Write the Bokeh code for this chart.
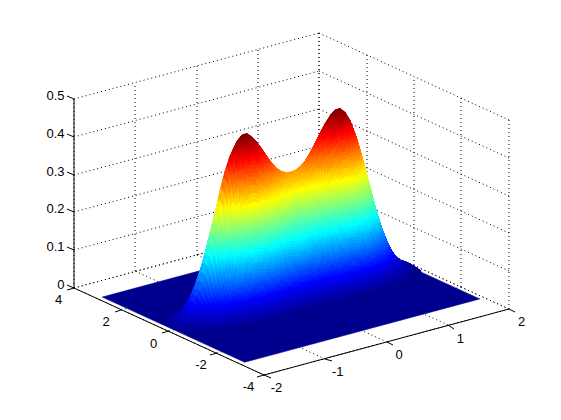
from bokeh.plotting import figure
from bokeh.embed import file_html
from bokeh.resources import INLINE
from bokeh.core.properties import value

# Surface: height = crest_z(x) * profile_y(y)
surf_x = [-1.92, -1.84, -1.76, -1.68, -1.60, -1.52, -1.44, -1.36, -1.28, -1.20, -1.12, -1.04, -0.96,
          -0.88, -0.80, -0.72, -0.64, -0.56, -0.48, -0.40, -0.32, -0.24, -0.16, -0.08, 0.00,
          0.08, 0.16, 0.24, 0.32, 0.40, 0.48, 0.56, 0.64, 0.72, 0.80, 0.88, 0.96, 1.04, 1.12,
          1.20, 1.28, 1.36, 1.44, 1.52, 1.60, 1.68, 1.76, 1.84, 1.92]
crest_z = [0.008, 0.015, 0.025, 0.040, 0.060, 0.090, 0.130, 0.175, 0.230, 0.285, 0.340, 0.390, 0.428,
           0.453, 0.466, 0.466, 0.454, 0.437, 0.416, 0.393, 0.372, 0.354, 0.342, 0.335, 0.333,
           0.335, 0.342, 0.354, 0.372, 0.393, 0.416, 0.437, 0.454, 0.466, 0.466, 0.453, 0.428, 0.390, 0.340,
           0.285, 0.230, 0.175, 0.130, 0.090, 0.060, 0.040, 0.025, 0.015, 0.008]
surf_y = [-1.5, -1.4, -1.3, -1.2, -1.1, -1.0, -0.9, -0.8, -0.7, -0.6, -0.5, -0.4, -0.3, -0.2, -0.1, 0.0,
          0.1, 0.2, 0.3, 0.4, 0.5, 0.6, 0.7, 0.8, 0.9, 1.0, 1.1, 1.2, 1.3, 1.4, 1.5]
profile_y = [0.0, 0.0005, 0.0015, 0.004, 0.009, 0.021, 0.044, 0.085, 0.151, 0.249, 0.381, 0.539, 0.707, 0.857, 0.962, 1.0,
             0.962, 0.857, 0.707, 0.539, 0.381, 0.249, 0.151, 0.085, 0.044, 0.021, 0.009, 0.004, 0.0015, 0.0005, 0.0]
surf_left, surf_right, surf_front, surf_back = -1.92, 1.92, -3.0, 3.0

x_ticks = [-2, -1, 0, 1, 2]
y_ticks = [-4, -2, 0, 2, 4]
z_ticks = [0, 0.1, 0.2, 0.3, 0.4, 0.5]
x_labels = ["-2", "-1", "0", "1", "2"]
y_labels = ["-4", "-2", "0", "2", "4"]
z_labels = ["0", "0.1", "0.2", "0.3", "0.4", "0.5"]

# interpolated shading: how many shading steps each table cell is split into
X_SUB = 2
Y_SUB_FRONT = 7
Y_SUB_BACK = 2


def project(x, y, z):
    """Orthographic view of the 3-D box onto the page."""
    return (263 + (x + 2) * 61.25 - (y + 4) * 23.75,
            374 - (x + 2) * 16.5 - (y + 4) * 10.875 - z * 378)


def jet_index(t):
    return min(63, max(0, int(t * 64)))


def jet(i):
    t = (i + 1) / 64
    def ramp(v):
        return int(round(255 * max(0.0, min(1.0, 1.5 - abs(4 * v)))))
    return "#%02x%02x%02x" % (ramp(t - 0.75), ramp(t - 0.5), ramp(t - 0.25))


mesh_x, mesh_crest = [], []
for i in range(len(surf_x) - 1):
    for s in range(X_SUB):
        f = s / X_SUB
        mesh_x.append(surf_x[i] + (surf_x[i + 1] - surf_x[i]) * f)
        mesh_crest.append(crest_z[i] + (crest_z[i + 1] - crest_z[i]) * f)
mesh_x.append(surf_x[-1])
mesh_crest.append(crest_z[-1])

mesh_y, mesh_prof = [], []
for j in range(len(surf_y) - 1):
    sub = Y_SUB_FRONT if surf_y[j] < 0 else Y_SUB_BACK
    for s in range(sub):
        f = s / sub
        mesh_y.append(surf_y[j] + (surf_y[j + 1] - surf_y[j]) * f)
        mesh_prof.append(profile_y[j] + (profile_y[j + 1] - profile_y[j]) * f)
mesh_y.append(surf_y[-1])
mesh_prof.append(profile_y[-1])

p = figure(width=545, height=404, x_range=(0, 545), y_range=(404, 0),
           output_backend="svg", toolbar_location=None, min_border=0,
           outline_line_color=None, background_fill_color="white", border_fill_color="white")
p.xaxis.visible = False
p.yaxis.visible = False
p.xgrid.visible = False
p.ygrid.visible = False


def snap(v):
    return round(v) + 0.5


# dotted grid on the two back walls and the floor
gx, gy = [], []
def seg(a, b):
    xa, ya = project(*a)
    xb, yb = project(*b)
    gx.append([snap(xa), snap(xb)])
    gy.append([snap(ya), snap(yb)])

for x in x_ticks:
    seg((x, 4, 0), (x, 4, 0.5))
    seg((x, -4, 0), (x, 4, 0))
for y in y_ticks:
    seg((2, y, 0), (2, y, 0.5))
    seg((-2, y, 0), (2, y, 0))
for z in z_ticks:
    seg((-2, 4, z), (2, 4, z))
    seg((2, 4, z), (2, -4, z))
p.multi_line(gx, gy, line_color="black", line_width=1, line_dash="1 3")

# flat part of the surface, then the raised cells from back corner to front corner
floor = [project(surf_left, surf_front, 0), project(surf_right, surf_front, 0),
         project(surf_right, surf_back, 0), project(surf_left, surf_back, 0)]
p.patch([q[0] for q in floor], [q[1] for q in floor], fill_color=jet(0), line_color=jet(0), line_width=0.5)

zmax = max(crest_z)
xs, ys, colors = [], [], []
for j in range(len(mesh_y) - 2, -1, -1):
    y0, y1 = mesh_y[j], mesh_y[j + 1]
    h0, h1 = mesh_prof[j], mesh_prof[j + 1]
    for i in range(len(mesh_x) - 2, -1, -1):
        g0, g1 = mesh_crest[i], mesh_crest[i + 1]
        corners = [(mesh_x[i], y0, g0 * h0), (mesh_x[i + 1], y0, g1 * h0),
                   (mesh_x[i + 1], y1, g1 * h1), (mesh_x[i], y1, g0 * h1)]
        if max(c[2] for c in corners) < 0.004:
            continue
        pts = [project(*c) for c in corners]
        xs.append([q[0] for q in pts])
        ys.append([q[1] for q in pts])
        colors.append(jet(jet_index(sum(c[2] for c in corners) / 4 / zmax)))
p.patches(xs, ys, fill_color=colors, line_color=colors, line_width=1)

# solid axes and tick marks
ax, ay = [], []
def aseg(a, b, ox=0.0, oy=0.0):
    xa, ya = project(*a)
    xb, yb = project(*b)
    ax.append([snap(xa), snap(xb + ox)])
    ay.append([snap(ya), snap(yb + oy)])

aseg((-2, 4, 0), (-2, 4, 0.5))
aseg((-2, -4, 0), (-2, 4, 0))
aseg((-2, -4, 0), (2, -4, 0))
for z in z_ticks:
    aseg((-2, 4, z), (-2, 4, z), -6.5, -3)
for y in y_ticks:
    aseg((-2, y, 0), (-2, y, 0), -6.8, 1.8)
for x in x_ticks:
    aseg((x, -4, 0), (x, -4, 0), 6.5, 3)
p.multi_line(ax, ay, line_color="black", line_width=1)

font = value("Liberation Sans")
def labels(tx, ty, txt, align):
    p.text(tx, ty, text=txt, text_font=font, text_font_size="13px", text_color="black",
           text_align=align, text_baseline="middle")

zp = [project(-2, 4, z) for z in z_ticks]
labels([q[0] - 9 for q in zp], [q[1] - 3 for q in zp], z_labels, "right")
yp = [project(-2, y, 0) for y in y_ticks]
labels([q[0] - 15 for q in yp], [q[1] + 12 for q in yp], y_labels, "center")
xp = [project(x, -4, 0) for x in x_ticks]
labels([q[0] + 13 for q in xp], [q[1] + 13 for q in xp], x_labels, "center")

open("out.html", "w").write(file_html(p, INLINE))
